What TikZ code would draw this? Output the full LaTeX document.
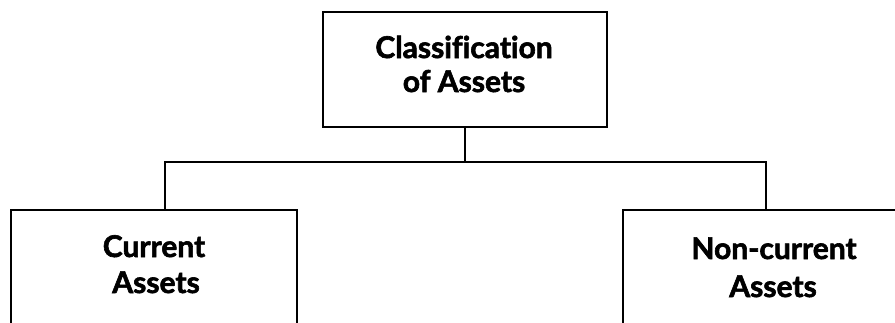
\documentclass[tikz,border=0pt]{standalone}
\usepackage{fontspec}
\setmainfont{Lato}[BoldFont={* Bold}, BoldFeatures={FakeBold=2}, Ligatures={NoCommon}]
\begin{document}
\begin{tikzpicture}[x=1pt,y=1pt,
  box/.style={draw=black, line width=2.8pt, fill=white, inner sep=0pt},
  lbl/.style={anchor=base, inner sep=0pt, font=\fontsize{30}{34}\selectfont\bfseries},
  wire/.style={draw=black, line width=2.8pt}]
\useasboundingbox (0,0) rectangle (895,-322);
\clip (0,0) rectangle (895,-322);
% boxes (the lower ones run past the bottom edge)
\node[box, minimum width=284pt, minimum height=115pt] (top) at (465,-69.5) {};
\node[box, minimum width=286pt, minimum height=200pt] (cur) at (154,-310) {};
\node[box, minimum width=286pt, minimum height=200pt] (ncur) at (766,-310) {};
% labels
\node[lbl] (t1) at (464,-58) {Classification};
\node[lbl] (t2) at (464,-92) {of Assets};
\node[lbl] (c1) at (154,-257) {Current};
\node[lbl] (c2) at (156,-293) {Assets};
\node[lbl] (n1) at (774,-259) {Non-current};
\node[lbl] (n2) at (773,-297) {Assets};
% connectors
\coordinate (busL) at (165,-162);
\coordinate (busR) at (766,-162);
\draw[wire] (top.south) -- (top.south |- busL);
\draw[wire, line join=miter] (cur.north -| busL) -- (busL) -- (busR) -- (ncur.north);
\end{tikzpicture}
\end{document}
